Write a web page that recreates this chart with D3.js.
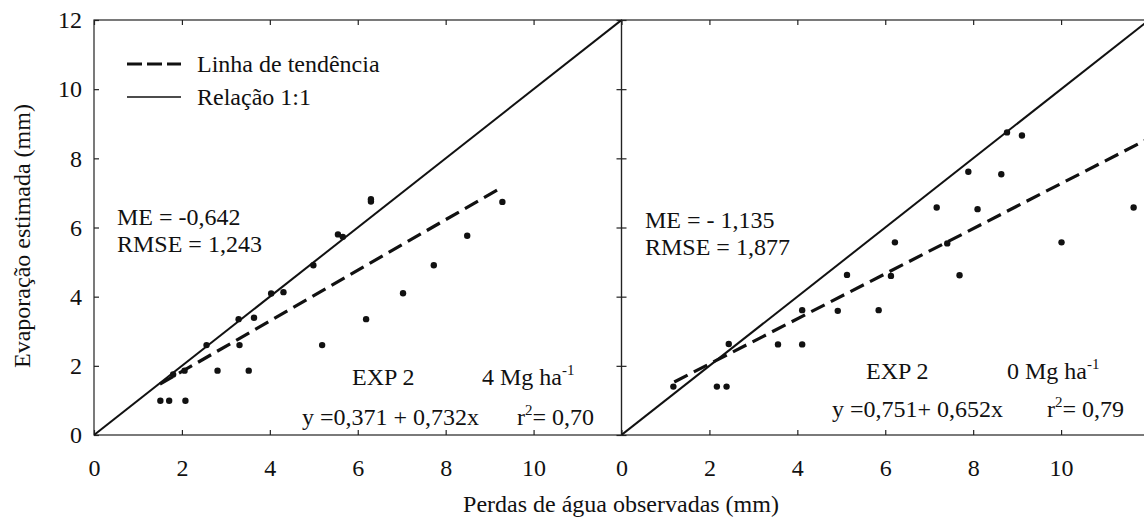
<!DOCTYPE html>
<html>
<head>
<meta charset="utf-8">
<script src="https://cdn.jsdelivr.net/npm/d3@7"></script>
<style>
  body { margin: 0; background: #fff; }
  svg text { font-family: "Liberation Serif", Tinos, "Times New Roman", Times, "DejaVu Serif", serif !important; fill: #111; }
</style>
</head>
<body>
<svg id="chart" width="1144" height="521"></svg>
<script>
// observed (x) vs estimated (y), EXP 2, 4 Mg/ha
var obs4 = [1.51, 1.71, 2.08, 1.80, 2.06, 2.81, 3.52, 2.56, 3.31, 5.19, 3.29, 3.64, 4.03, 4.31,
            4.99, 5.55, 5.66, 6.30, 6.30, 6.19, 7.03, 7.73, 8.49, 9.29];
var est4 = [0.99, 0.99, 0.99, 1.75, 1.86, 1.86, 1.86, 2.60, 2.60, 2.60, 3.35, 3.39, 4.09, 4.13,
            4.91, 5.80, 5.73, 6.75, 6.82, 3.35, 4.10, 4.91, 5.76, 6.74];
// EXP 2, 0 Mg/ha
var obs0 = [1.18, 2.17, 2.39, 2.44, 3.56, 4.11, 4.11, 4.92, 5.13, 5.85, 6.13, 6.22, 7.17, 7.41,
            7.69, 7.89, 8.10, 8.64, 8.77, 9.11, 10.01, 11.65];
var est0 = [1.40, 1.40, 1.40, 2.63, 2.62, 2.62, 3.61, 3.59, 4.63, 3.61, 4.60, 5.57, 6.58, 5.54,
            4.62, 7.61, 6.53, 7.54, 8.75, 8.66, 5.57, 6.58];

// trend lines: [intercept, slope, xStart, xEnd]
var trend4 = [0.371, 0.732, 1.5, 9.2];
var trend0 = [0.751, 0.652, 1.2, 12];

var xTicks = [0, 2, 4, 6, 8, 10];
var yTicks = [0, 2, 4, 6, 8, 10, 12];

var svg = d3.select('#chart');
var y = d3.scaleLinear().domain([0, 12]).range([435, 20]);
var xL = d3.scaleLinear().domain([0, 12]).range([94, 621.5]);
var xR = d3.scaleLinear().domain([0, 12]).range([621.5, 1149]);

function panel(id, x, obs, est, trend, showY) {
    var g = svg.append('g');

    g.append('clipPath').attr('id', 'clip' + id)
        .append('rect')
        .attr('x', x.range()[0]).attr('y', y.range()[1])
        .attr('width', x.range()[1] - x.range()[0])
        .attr('height', y.range()[0] - y.range()[1]);

    // frame
    g.append('rect')
        .attr('x', x.range()[0]).attr('y', y.range()[1])
        .attr('width', x.range()[1] - x.range()[0])
        .attr('height', y.range()[0] - y.range()[1])
        .style('fill', 'none').style('stroke', '#222').style('stroke-width', '1.2px');

    // inward ticks
    var bottom = g.append('g').attr('transform', 'translate(0,435)')
        .call(d3.axisBottom(x).tickValues(xTicks).tickSize(-5).tickPadding(24).tickFormat(d3.format('d')));
    var top = g.append('g').attr('transform', 'translate(0,20)')
        .call(d3.axisTop(x).tickValues(xTicks).tickSize(-5).tickFormat(''));
    var left = g.append('g').attr('transform', 'translate(' + x.range()[0] + ',0)')
        .call(d3.axisLeft(y).tickValues(yTicks).tickSize(-5).tickPadding(12).tickFormat(showY ? d3.format('d') : ''));
    var right = g.append('g').attr('transform', 'translate(' + x.range()[1] + ',0)')
        .call(d3.axisRight(y).tickValues(yTicks).tickSize(-5).tickFormat(''));

    [bottom, top, left, right].forEach(function(a) {
        a.attr('font-family', null).attr('font-size', null);
        a.select('.domain').remove();
        a.selectAll('line').style('stroke', '#222').style('stroke-width', '1.2px');
        a.selectAll('text').style('font-size', '24px').style('fill', '#111');
    });

    var plot = g.append('g').attr('clip-path', 'url(#clip' + id + ')');

    // 1:1 line
    plot.append('line')
        .attr('x1', x(0)).attr('y1', y(0))
        .attr('x2', x(12)).attr('y2', y(12))
        .style('stroke', '#111').style('stroke-width', '2px');

    // trend line
    plot.append('line')
        .attr('x1', x(trend[2])).attr('y1', y(trend[0] + trend[1] * trend[2]))
        .attr('x2', x(trend[3])).attr('y2', y(trend[0] + trend[1] * trend[3]))
        .style('stroke', '#111').style('stroke-width', '3.2px')
        .style('stroke-dasharray', '15,7');

    plot.selectAll('circle')
        .data(obs)
        .enter()
        .append('circle')
        .attr('cx', function(d) { return x(d); })
        .attr('cy', function(d, i) { return y(est[i]); })
        .attr('r', 3.2)
        .style('fill', '#111');

    return g;
}

var gL = panel('L', xL, obs4, est4, trend4, true);
var gR = panel('R', xR, obs0, est0, trend0, false);

// parts: plain strings, or {sup: text} for a raised small piece
function label(g, x, yy, parts) {
    var t = g.append('text').attr('x', x).attr('y', yy).style('font-size', '24px');
    var raised = false;
    parts.forEach(function(p) {
        var s = t.append('tspan');
        if (typeof p === 'string') {
            if (raised) s.attr('dy', 10);
            raised = false;
            s.text(p);
        } else {
            s.attr('dy', -10).style('font-size', '15px').text(p.sup);
            raised = true;
        }
    });
    return t;
}

// left panel annotations
label(gL, 117, 225, ['ME = -0,642']);
label(gL, 117, 252, ['RMSE = 1,243']);
label(gL, 352, 385, ['EXP 2']);
label(gL, 482, 385, ['4 Mg ha', {sup: '-1'}]);
label(gL, 302, 425, ['y =0,371 + 0,732x']);
label(gL, 517, 425, ['r', {sup: '2'}, '= 0,70']);

// right panel annotations
label(gR, 645, 228, ['ME = - 1,135']);
label(gR, 645, 255, ['RMSE = 1,877']);
label(gR, 866, 379, ['EXP 2']);
label(gR, 1007, 379, ['0 Mg ha', {sup: '-1'}]);
label(gR, 832, 417, ['y =0,751+ 0,652x']);
label(gR, 1047, 417, ['r', {sup: '2'}, '= 0,79']);

// legend
var leg = svg.append('g');
leg.append('line').attr('x1', 127).attr('x2', 181).attr('y1', 64).attr('y2', 64)
    .style('stroke', '#111').style('stroke-width', '3.2px').style('stroke-dasharray', '15,5');
leg.append('text').attr('x', 197).attr('y', 72).style('font-size', '24px').text('Linha de tendência');
leg.append('line').attr('x1', 127).attr('x2', 181).attr('y1', 97).attr('y2', 97)
    .style('stroke', '#111').style('stroke-width', '1.6px');
leg.append('text').attr('x', 197).attr('y', 105).style('font-size', '24px').text('Relação 1:1');

// axis titles
svg.append('text')
    .attr('transform', 'translate(30,236) rotate(-90)')
    .attr('text-anchor', 'middle')
    .style('font-size', '24px')
    .text('Evaporação estimada (mm)');
svg.append('text')
    .attr('x', 621).attr('y', 512)
    .attr('text-anchor', 'middle')
    .style('font-size', '24px')
    .text('Perdas de água observadas (mm)');
</script>
</body>
</html>
